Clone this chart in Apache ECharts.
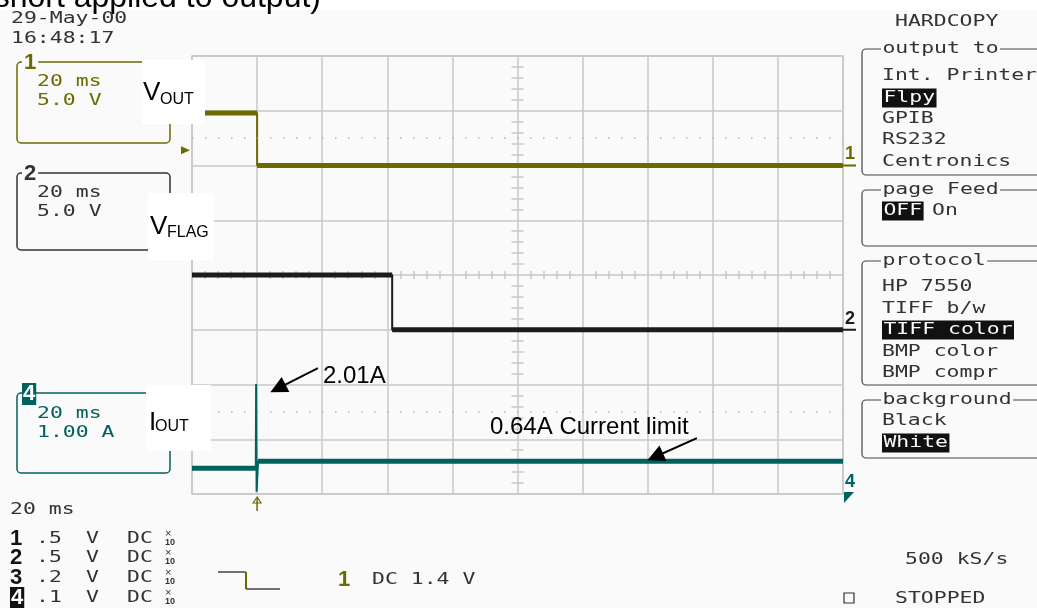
<!DOCTYPE html>
<html>
<head>
<meta charset="utf-8">
<script src="https://cdn.jsdelivr.net/npm/echarts@6/dist/echarts.min.js"></script>
<style>
  html, body { margin: 0; padding: 0; background: #fafafa; }
  #scope { width: 1037px; height: 608px; }
</style>
</head>
<body>
<div id="scope"></div>
<script>
// time base: 20 ms/div, trigger at 0 ms
const timeRange = [-20, 180];
const timeStep = 20;

// ch1 - V_OUT (V)
const voutTime = [-20, 0, 0, 180];
const voutVolts = [4.8, 4.8, 0.0, 0.0];

// ch2 - V_FLAG (V)
const vflagTime = [-20, 41.5, 41.5, 180];
const vflagVolts = [5.0, 5.0, 0.0, 0.0];

// ch4 - I_OUT (A), short applied at 0 ms
const ioutTime = [-20, -0.4, -0.3, -0.15, 0.3, 180];
const ioutAmps = [0.47, 0.47, 2.01, 0.04, 0.6, 0.6];

// trigger on ch1, DC 1.4 V
const triggerLevel = 1.4;

const GRID = "#c8c8c8";
const OLIVE = "#6b6b00";
const TEAL = "#00625f";
const DARK = "#1c1c1c";
const TEXT = "#333";

// perDiv = units per division, ground = position of 0 in divisions
const channels = [
  { num: "1", time: voutTime, values: voutVolts, perDiv: 5, ground: 2, color: OLIVE },
  { num: "2", time: vflagTime, values: vflagVolts, perDiv: 5, ground: -1, color: DARK },
  { num: "4", time: ioutTime, values: ioutAmps, perDiv: 1, ground: -4, color: TEAL }
];

function toDiv(ch, v) {
  return ch.ground + v / ch.perDiv;
}

var series = [];
channels.forEach(function (ch) {
  var pts = ch.time.map(function (t, i) {
    return [t, toDiv(ch, ch.values[i])];
  });
  // thin trace (edges / spike)
  series.push({
    type: "line",
    data: pts,
    symbol: "none",
    z: 3,
    lineStyle: { color: ch.color, width: 2 }
  });
  // thick noisy band on the flat parts
  for (var i = 0; i < pts.length - 1; i++) {
    if (ch.values[i] === ch.values[i + 1]) {
      series.push({
        type: "line",
        data: [pts[i], pts[i + 1]],
        symbol: "none",
        z: 4,
        lineStyle: { color: ch.color, width: 5 }
      });
    }
  }
});

// dotted reference lines
series[0].markLine = {
  silent: true,
  symbol: "none",
  label: { show: false },
  lineStyle: { color: "#b4b4b4", width: 1.5, type: [1.5, 11.5] },
  data: [{ yAxis: 2.5 }, { yAxis: -2.5 }]
};

// annotation arrows (2.01A peak, current limit)
var ioutSeries = series.filter(function (s) { return s.lineStyle.color === TEAL; })[0];
ioutSeries.markLine = {
  silent: true,
  symbol: ["none", "triangle"],
  symbolSize: 17,
  label: { show: false },
  lineStyle: { color: "#000", width: 2, type: "solid" },
  data: [
    [{ coord: [18.7, -1.7] }, { coord: [6.4, -2.07] }],
    [{ coord: [135.1, -2.98] }, { coord: [122.3, -3.32] }]
  ]
};

function centerX(inside) {
  return {
    type: "value", min: timeRange[0], max: timeRange[1], interval: timeStep,
    position: "bottom", offset: -219,
    axisLine: { show: false, onZero: false },
    axisTick: { show: false, inside: inside },
    minorTick: { show: true, splitNumber: 5, length: 4, lineStyle: { color: GRID, width: 1.5 } },
    axisLabel: { show: false },
    splitLine: { show: false }
  };
}

function centerY(inside) {
  return {
    type: "value", min: -4, max: 4, interval: 1,
    position: "left", offset: -325.5,
    axisLine: { show: false, onZero: false },
    axisTick: { show: false, inside: inside },
    minorTick: { show: true, splitNumber: 5, length: 6, lineStyle: { color: GRID, width: 1.5 } },
    axisLabel: { show: false },
    splitLine: { show: false }
  };
}

var chart = echarts.init(document.getElementById("scope"));

var option = {
  backgroundColor: "#fafafa",
  animation: false,
  grid: {
    left: 192, right: 194, top: 56, bottom: 114,
    show: true, borderColor: GRID, borderWidth: 1.5,
    outerBoundsMode: "none"
  },
  xAxis: [
    {
      type: "value", min: timeRange[0], max: timeRange[1], interval: timeStep,
      axisLine: { show: false, onZero: false },
      axisTick: { show: false },
      axisLabel: { show: false },
      splitLine: { show: true, lineStyle: { color: GRID, width: 1.5 } }
    },
    centerX(true),
    centerX(false)
  ],
  yAxis: [
    {
      type: "value", min: -4, max: 4, interval: 1,
      axisLine: { show: false, onZero: false },
      axisTick: { show: false },
      axisLabel: { show: false },
      splitLine: { show: true, lineStyle: { color: GRID, width: 1.5 } }
    },
    centerY(true),
    centerY(false)
  ],
  series: series
};

chart.setOption(option);

// ---- screen text / decorations ----
const SX = 1.43;
function mono(str, x, y, color, inverse) {
  return {
    type: "text", x: x, y: y, scaleX: SX, z: 100,
    style: {
      text: str,
      font: '15px "DejaVu Sans Mono"',
      fill: inverse ? "#fafafa" : color,
      verticalAlign: "middle",
      backgroundColor: inverse ? color : null,
      padding: inverse ? [2, 1, 2, 1] : 0
    }
  };
}
function sans(str, x, y, size, color, extra) {
  var el = {
    type: "text", x: x, y: y, z: 100,
    style: { text: str, font: size + 'px "Liberation Sans"', fill: color || "#000", verticalAlign: "middle" }
  };
  if (extra) Object.assign(el.style, extra);
  return el;
}
function whiteBox(x, y, w, h) {
  return { type: "rect", z: 99, shape: { x: x, y: y, width: w, height: h }, style: { fill: "#fff" } };
}
function chBox(num, top, h, color, inverse) {
  return [
    { type: "rect", z: 99, shape: { x: 17, y: top, width: 153, height: h, r: 4 },
      style: { fill: "none", stroke: color, lineWidth: 1.5 } },
    sans(num, 22, top + 1, 22, inverse ? "#fff" : color, {
      font: 'bold 22px "Liberation Sans"',
      backgroundColor: inverse ? color : "#fafafa",
      padding: inverse ? [0, 1] : [0, 2]
    })
  ];
}

var els = [];
// caption cut off at the top
els.push({ type: "rect", z: 98, shape: { x: 0, y: 0, width: 1037, height: 10 }, style: { fill: "#fff" } });
els.push(sans("(short applied to output)", 321, -2, 32, "#000", { align: "right" }));

els.push(mono("29-May-00", 11, 19, TEXT));
els.push(mono("16:48:17", 11, 39, TEXT));

// channel boxes
els = els.concat(chBox("1", 62, 81, OLIVE, false));
els.push(mono("20 ms", 37, 82, OLIVE), mono("5.0 V", 37, 101, OLIVE));
els = els.concat(chBox("2", 173, 77, "#333", false));
els.push(mono("20 ms", 37, 193, TEXT), mono("5.0 V", 37, 212, TEXT));
els = els.concat(chBox("4", 393, 80, TEAL, true));
els.push(mono("20 ms", 37, 414, TEAL), mono("1.00 A", 37, 433, TEAL));

// signal labels
els.push(whiteBox(142, 60, 63, 64), sans("V", 143, 93, 26), sans("OUT", 160, 100, 16));
els.push(whiteBox(148, 193, 66, 67), sans("V", 150, 227, 26), sans("FLAG", 167, 233, 16));
els.push(whiteBox(146, 385, 65, 66), sans("I", 149, 423, 26), sans("OUT", 155, 427, 16));

// annotations
els.push(sans("2.01A", 323, 376, 24));
els.push(sans("0.64A Current limit", 490, 427, 24));

// bottom-left readout
els.push(mono("20 ms", 10, 510, TEXT));
var rows = [
  { n: "1", v: ".5", y: 539 },
  { n: "2", v: ".5", y: 558 },
  { n: "3", v: ".2", y: 578 },
  { n: "4", v: ".1", y: 598 }
];
rows.forEach(function (r, i) {
  var inv = i === 3;
  els.push(sans(r.n, 10, r.y, 22, inv ? "#fff" : "#111", {
    font: 'bold 22px "Liberation Sans"',
    backgroundColor: inv ? "#111" : null,
    padding: inv ? [0, 1] : 0
  }));
  els.push(mono(r.v, 36, r.y, TEXT), mono("V", 86, r.y, TEXT), mono("DC", 127, r.y, TEXT));
  els.push(sans("\u00d7", 165, r.y - 5, 11, TEXT), sans("10", 165, r.y + 4, 9, TEXT, { font: 'bold 9px "Liberation Sans"' }));
});

// trigger readout
els.push({ type: "polyline", z: 100, shape: { points: [[218, 572], [246, 572]] }, style: { stroke: "#444", lineWidth: 1.5 } });
els.push({ type: "polyline", z: 100, shape: { points: [[246, 572], [246, 589]] }, style: { stroke: OLIVE, lineWidth: 2 } });
els.push({ type: "polyline", z: 100, shape: { points: [[246, 589], [280, 589]] }, style: { stroke: "#444", lineWidth: 1.5 } });
els.push(sans("1", 338, 580, 22, OLIVE, { font: 'bold 22px "Liberation Sans"' }));
els.push(mono("DC 1.4 V", 372, 580, TEXT));

els.push(mono("500 kS/s", 905, 560, TEXT));
els.push({ type: "rect", z: 100, shape: { x: 844, y: 593, width: 10, height: 10 }, style: { fill: "none", stroke: "#333", lineWidth: 1.2 } });
els.push(mono("STOPPED", 895, 599, TEXT));

// hardcopy menu
els.push(mono("HARDCOPY", 895, 22, TEXT));
var hdr = function (t, y) {
  var e = mono(t, 881, y, TEXT);
  e.style.backgroundColor = "#fafafa";
  e.style.padding = [0, 1];
  return e;
};
[["output to", 49, 175], ["page Feed", 190, 246], ["protocol", 261, 385], ["background", 400, 458]].forEach(function (b) {
  els.push({ type: "rect", z: 99, shape: { x: 862, y: b[1], width: 220, height: b[2] - b[1], r: 4 },
    style: { fill: "none", stroke: "#444", lineWidth: 1.2 } });
  els.push(hdr(b[0], b[1]));
});
els.push(mono("Int. Printer", 882, 76, TEXT));
els.push(mono("Flpy", 882, 98, "#111", true));
els.push(mono("GPIB", 882, 119, TEXT));
els.push(mono("RS232", 882, 140, TEXT));
els.push(mono("Centronics", 882, 162, TEXT));
els.push(mono("OFF", 882, 211, "#111", true));
els.push(mono("On", 932, 211, TEXT));
els.push(mono("HP 7550", 882, 287, TEXT));
els.push(mono("TIFF b/w", 882, 309, TEXT));
els.push(mono("TIFF color", 882, 330, "#111", true));
els.push(mono("BMP color", 882, 352, TEXT));
els.push(mono("BMP compr", 882, 373, TEXT));
els.push(mono("Black", 882, 421, TEXT));
els.push(mono("White", 882, 443, "#111", true));

// channel ground markers at the right edge, trigger markers
function px(t, d) {
  return chart.convertToPixel({ xAxisIndex: 0, yAxisIndex: 0 }, [t, d]);
}
var right = px(timeRange[1], 0)[0];
channels.forEach(function (ch) {
  var gy = px(0, ch.ground)[1];
  if (ch.num === "4") {
    els.push(sans("4", right + 2, gy - 12, 18, ch.color, { font: 'bold 18px "Liberation Sans"' }));
    els.push({ type: "polygon", z: 100, shape: { points: [[right + 1, gy - 2], [right + 11, gy - 2], [right + 1, gy + 9]] }, style: { fill: ch.color } });
  } else {
    els.push(sans(ch.num, right + 2, gy - 11, 18, ch.color, { font: 'bold 18px "Liberation Sans"' }));
    els.push({ type: "polyline", z: 100, shape: { points: [[right, gy], [right + 13, gy]] }, style: { stroke: ch.color, lineWidth: 2 } });
  }
});
var trigY = px(0, toDiv(channels[0], triggerLevel))[1];
var left = px(timeRange[0], 0)[0];
els.push({ type: "polygon", z: 100, shape: { points: [[left - 11, trigY - 4], [left - 2, trigY], [left - 11, trigY + 4]] }, style: { fill: OLIVE } });
var trigX = px(0, 0)[0];
var bottom = px(0, -4)[1];
els.push({ type: "polyline", z: 100, shape: { points: [[trigX, bottom + 4], [trigX, bottom + 17]] }, style: { stroke: OLIVE, lineWidth: 1.5 } });
els.push({ type: "polygon", z: 100, shape: { points: [[trigX - 4, bottom + 9], [trigX, bottom + 3], [trigX + 4, bottom + 9]] }, style: { fill: "none", stroke: OLIVE, lineWidth: 1.2 } });

chart.setOption({ graphic: { elements: els } });
</script>
</body>
</html>
